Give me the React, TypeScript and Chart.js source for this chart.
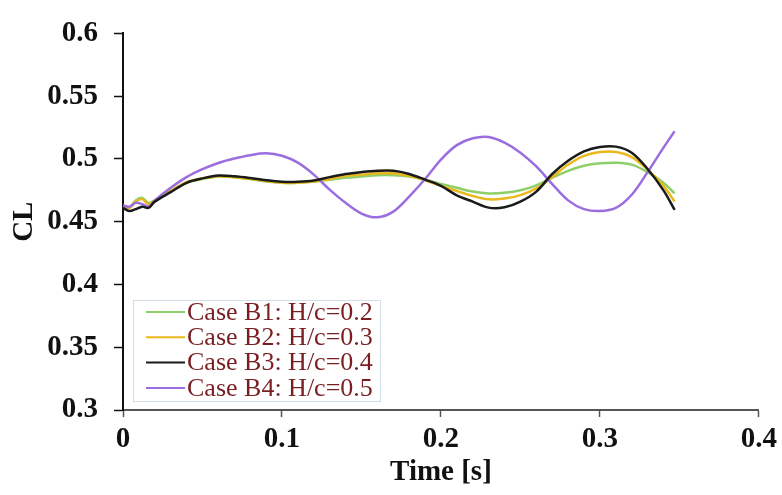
import React, { useEffect, useRef } from "react";
import { Chart, registerables } from "chart.js";

Chart.register(...registerables);

const TIME = [0, 0.004, 0.008, 0.012, 0.016, 0.02, 0.03, 0.04, 0.05, 0.06, 0.07, 0.08, 0.09, 0.1, 0.11, 0.12, 0.13, 0.14, 0.15, 0.16, 0.17, 0.18, 0.19, 0.2, 0.21, 0.22, 0.23, 0.24, 0.25, 0.26, 0.27, 0.28, 0.29, 0.3, 0.31, 0.32, 0.33, 0.34, 0.347];

const CASE_B1 = [0.462, 0.461, 0.467, 0.469, 0.465, 0.467, 0.4745, 0.481, 0.484, 0.486, 0.4855, 0.484, 0.482, 0.481, 0.481, 0.482, 0.4835, 0.485, 0.486, 0.487, 0.487, 0.486, 0.4835, 0.48, 0.477, 0.474, 0.4725, 0.473, 0.475, 0.479, 0.485, 0.4905, 0.4945, 0.4965, 0.497, 0.4955, 0.4895, 0.481, 0.4725];

const CASE_B2 = [0.462, 0.461, 0.466, 0.468, 0.464, 0.467, 0.4745, 0.4815, 0.4845, 0.4862, 0.4855, 0.4842, 0.4825, 0.481, 0.481, 0.482, 0.484, 0.4865, 0.4875, 0.4885, 0.4885, 0.4865, 0.483, 0.4785, 0.4745, 0.4705, 0.4678, 0.4685, 0.4712, 0.4765, 0.4855, 0.4955, 0.5025, 0.5055, 0.5055, 0.5015, 0.4915, 0.4785, 0.466];

const CASE_B3 = [0.461, 0.4585, 0.46, 0.462, 0.461, 0.466, 0.4735, 0.481, 0.4845, 0.4868, 0.4862, 0.4848, 0.483, 0.4818, 0.4818, 0.4828, 0.4855, 0.488, 0.4895, 0.4905, 0.4905, 0.488, 0.4835, 0.4785, 0.471, 0.466, 0.4612, 0.4615, 0.466, 0.474, 0.488, 0.4985, 0.506, 0.5095, 0.5098, 0.505, 0.492, 0.475, 0.4595];

const CASE_B4 = [0.463, 0.462, 0.465, 0.464, 0.462, 0.467, 0.477, 0.4855, 0.4918, 0.4968, 0.5003, 0.503, 0.5045, 0.5025, 0.497, 0.4875, 0.4755, 0.465, 0.4565, 0.4535, 0.458, 0.47, 0.484, 0.4995, 0.511, 0.5165, 0.5175, 0.513, 0.505, 0.494, 0.48, 0.467, 0.46, 0.4585, 0.461, 0.4715, 0.4895, 0.509, 0.522];

const SERIES_LABELS = ["Case B1: H/c=0.2", "Case B2: H/c=0.3", "Case B3: H/c=0.4", "Case B4: H/c=0.5"];
const SERIES_COLORS = ["#8fcf6a", "#eab81c", "#1a1a1a", "#9b6ee0"];
const SERIES_VALUES = [CASE_B1, CASE_B2, CASE_B3, CASE_B4];

const X_TICKS = [0, 0.1, 0.2, 0.3, 0.4];
const Y_TICKS = [0.3, 0.35, 0.4, 0.45, 0.5, 0.55, 0.6];

const fmt = (v: number) => String(Number(Number(v).toFixed(2)));

const legendPlugin = {
  id: "insideLegend",
  afterDraw(chart: any) {
    const { ctx, chartArea } = chart;
    const boxX = chartArea.left + 10;
    const boxY = chartArea.bottom - 110;
    const boxW = 247;
    const boxH = 101;
    ctx.save();
    ctx.fillStyle = "#ffffff";
    ctx.fillRect(boxX, boxY, boxW, boxH);
    ctx.strokeStyle = "#d3dde6";
    ctx.lineWidth = 1;
    ctx.strokeRect(boxX + 0.5, boxY + 0.5, boxW, boxH);
    ctx.font = "26px 'Liberation Serif', 'Times New Roman', serif";
    ctx.textBaseline = "middle";
    ctx.textAlign = "left";
    SERIES_LABELS.forEach((label, i) => {
      const cy = boxY + 12 + i * 25.3;
      ctx.strokeStyle = SERIES_COLORS[i];
      ctx.lineWidth = 2;
      ctx.beginPath();
      ctx.moveTo(boxX + 13, cy);
      ctx.lineTo(boxX + 52, cy);
      ctx.stroke();
      ctx.fillStyle = "#7a1e22";
      ctx.fillText(label, boxX + 54, cy + 1);
    });
    ctx.restore();
  },
};

export default function App() {
  const ref = useRef<HTMLCanvasElement | null>(null);

  useEffect(() => {
    if (!ref.current) return;
    const datasets = SERIES_VALUES.map((vals, i) => ({
      label: SERIES_LABELS[i],
      data: TIME.map((t, j) => ({ x: t, y: vals[j] })),
      borderColor: SERIES_COLORS[i],
      backgroundColor: SERIES_COLORS[i],
      borderWidth: 2.5,
      pointRadius: 0,
      tension: 0.35,
      fill: false,
      order: i === 2 ? 0 : i === 3 ? 1 : 3 - i + 1,
    }));

    const tickFont = { family: "'Liberation Serif', 'Times New Roman', serif", size: 29, weight: "bold" as const };

    const chart = new Chart(ref.current, {
      type: "line",
      data: { datasets },
      plugins: [legendPlugin],
      options: {
        animation: false,
        responsive: false,
        maintainAspectRatio: false,
        layout: { padding: { left: 0, right: 23, top: 22, bottom: 0 } },
        plugins: { legend: { display: false }, tooltip: { enabled: false } },
        scales: {
          x: {
            type: "linear",
            min: 0,
            max: 0.4,
            afterFit: (s: any) => { s.height = 85; },
            afterBuildTicks: (s: any) => { s.ticks = X_TICKS.map((v) => ({ value: v })); },
            ticks: { color: "#111", font: tickFont, padding: 5, maxRotation: 0, callback: (v: any) => fmt(v) },
            grid: { display: true, drawOnChartArea: false, drawTicks: true, tickLength: 7, tickColor: "#555", tickWidth: 1.5 },
            border: { display: true, color: "#555", width: 2 },
            title: { display: true, text: "Time [s]", color: "#111", font: tickFont, padding: { top: 0, bottom: 5 } },
          },
          y: {
            type: "linear",
            min: 0.3,
            max: 0.6,
            afterFit: (s: any) => { s.width = 123; },
            afterBuildTicks: (s: any) => { s.ticks = Y_TICKS.map((v) => ({ value: v })); },
            ticks: { color: "#111", font: tickFont, padding: 16, callback: (v: any) => fmt(v) },
            grid: { display: true, drawOnChartArea: false, drawTicks: true, tickLength: 9, tickColor: "#111", tickWidth: 1.5 },
            border: { display: true, color: "#111", width: 2 },
            title: { display: true, text: "CL", color: "#111", font: tickFont, padding: { top: 7, bottom: 0 } },
          },
        },
      },
    });
    return () => chart.destroy();
  }, []);

  return (
    <div style={{ position: "fixed", left: 0, top: 0, width: 782, height: 495, background: "#fff" }}>
      <canvas ref={ref} width={782} height={495} style={{ width: 782, height: 495, display: "block" }} />
    </div>
  );
}
